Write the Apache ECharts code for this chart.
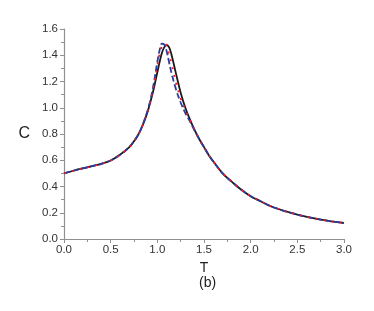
<!DOCTYPE html>
<html><head><meta charset="utf-8">
<script src="https://cdn.jsdelivr.net/npm/echarts@6/dist/echarts.min.js"></script>
<style>html,body{margin:0;padding:0;background:#fff}#c{width:374px;height:311px}</style>
</head><body><div id="c"></div>
<script>
var T = [0,0.1,0.2,0.3,0.4,0.5,0.6,0.7,0.75,0.8,0.85,0.9,0.95,1.0,1.025,1.05,1.075,1.1,1.125,1.15,1.2,1.25,1.3,1.35,1.4,1.45,1.5,1.55,1.6,1.7,1.8,1.9,2.0,2.1,2.25,2.5,2.75,3.0];
var blackC = [0.50,0.52,0.538,0.555,0.573,0.598,0.642,0.70,0.745,0.80,0.878,0.98,1.11,1.27,1.35,1.42,1.462,1.478,1.462,1.41,1.26,1.115,1.00,0.91,0.83,0.76,0.70,0.64,0.59,0.50,0.435,0.375,0.326,0.29,0.24,0.186,0.148,0.122];
var blueC  = [0.50,0.52,0.538,0.555,0.573,0.598,0.642,0.70,0.745,0.80,0.885,0.99,1.14,1.35,1.44,1.488,1.48,1.43,1.35,1.27,1.14,1.04,0.96,0.895,0.825,0.76,0.70,0.64,0.59,0.50,0.435,0.375,0.326,0.29,0.24,0.186,0.148,0.122];
var redC   = [0.50,0.52,0.538,0.555,0.573,0.598,0.642,0.70,0.745,0.80,0.882,0.985,1.13,1.32,1.41,1.47,1.49,1.47,1.41,1.34,1.19,1.07,0.985,0.905,0.83,0.76,0.70,0.64,0.59,0.50,0.435,0.375,0.326,0.29,0.24,0.186,0.148,0.122];
var xTicks = [0,0.5,1.0,1.5,2.0,2.5,3.0];
var yTicks = [0,0.2,0.4,0.6,0.8,1.0,1.2,1.4,1.6];

function pairs(ys){ return T.map(function(t,i){ return [t, ys[i]]; }); }
var axisCol = '#909090';
var chart = echarts.init(document.getElementById('c'));
chart.setOption({
  animation:false,
  backgroundColor:'#fff',
  grid:{left:64,right:30,top:29,bottom:72},
  title:{text:'(b)',left:194,top:271,textStyle:{fontSize:14,fontWeight:'normal',color:'#222',fontFamily:'Liberation Sans, Arial'}},
  xAxis:{type:'value',min:0,max:3,interval:0.5,
    name:'T',nameLocation:'middle',nameGap:16,
    nameTextStyle:{fontSize:14,color:'#222',fontFamily:'Liberation Sans, Arial'},
    axisLine:{lineStyle:{color:axisCol,width:1.2}},
    axisTick:{show:true,length:4,lineStyle:{color:axisCol}},
    minorTick:{show:true,splitNumber:2,length:3,lineStyle:{color:axisCol}},
    splitLine:{show:false},
    axisLabel:{color:'#333',fontSize:11.5,margin:5,fontFamily:'Liberation Sans, Arial',
      formatter:function(v){return v.toFixed(1);}}},
  yAxis:{type:'value',min:0,max:1.6,interval:0.2,
    name:'C',nameLocation:'middle',nameGap:34,nameRotate:0,
    nameTextStyle:{fontSize:16,color:'#222',fontFamily:'Liberation Sans, Arial'},
    axisLine:{show:true,lineStyle:{color:axisCol,width:1.2}},
    axisTick:{show:true,length:4,lineStyle:{color:axisCol}},
    minorTick:{show:true,splitNumber:2,length:3,lineStyle:{color:axisCol}},
    splitLine:{show:false},
    axisLabel:{color:'#333',fontSize:11.5,margin:6,fontFamily:'Liberation Sans, Arial',
      formatter:function(v){return v.toFixed(1);}}},
  series:[
    {type:'line',data:pairs(blackC),smooth:0.4,symbol:'none',lineStyle:{color:'#1a1a1a',width:1.8,type:'solid'},z:2},
    {type:'line',data:pairs(blueC),smooth:0.4,symbol:'none',lineStyle:{color:'#2e3b9c',width:1.8,type:[6,3]},z:3},
    {type:'line',data:pairs(redC),smooth:0.4,symbol:'none',lineStyle:{color:'#e8202a',width:1.8,type:[2,6]},z:4}
  ]
});
</script></body></html>
